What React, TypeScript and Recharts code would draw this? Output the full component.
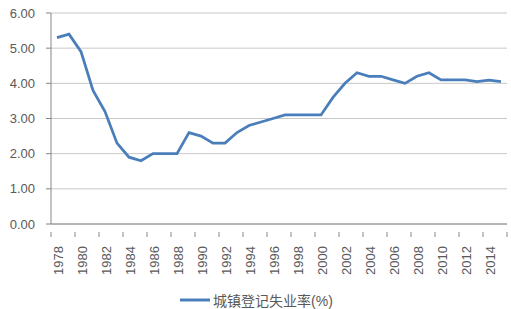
import { LineChart, Line, XAxis, YAxis, CartesianGrid, Legend } from 'recharts';

const years = [
  1978, 1979, 1980, 1981, 1982, 1983, 1984, 1985, 1986, 1987, 1988, 1989, 1990,
  1991, 1992, 1993, 1994, 1995, 1996, 1997, 1998, 1999, 2000, 2001, 2002, 2003,
  2004, 2005, 2006, 2007, 2008, 2009, 2010, 2011, 2012, 2013, 2014, 2015,
];

const rates = [
  5.3, 5.4, 4.9, 3.8, 3.2, 2.3, 1.9, 1.8, 2.0, 2.0, 2.0, 2.6, 2.5,
  2.3, 2.3, 2.6, 2.8, 2.9, 3.0, 3.1, 3.1, 3.1, 3.1, 3.6, 4.0, 4.3,
  4.2, 4.2, 4.1, 4.0, 4.2, 4.3, 4.1, 4.1, 4.1, 4.05, 4.09, 4.05,
];

const xTicks = [
  1978, 1980, 1982, 1984, 1986, 1988, 1990, 1992, 1994, 1996, 1998, 2000,
  2002, 2004, 2006, 2008, 2010, 2012, 2014,
];

const yTicks = [0, 1, 2, 3, 4, 5, 6];

const seriesName = '城镇登记失业率(%)';

const data = years.map((year, i) => ({ year, rate: rates[i] }));

const FONT = 'Arial, "Liberation Sans", "Noto Sans CJK SC", sans-serif';
const TEXT = '#595959';
const AXIS = '#868686';
const BLUE = '#4a7ebb';

// Excel-style category axis: tick marks sit between categories, labels rotated
function YearTick(props: any) {
  const { x, y, payload } = props;
  const half = 6;
  const last = payload.value === xTicks[xTicks.length - 1];
  return (
    <g>
      <line x1={x - half} x2={x - half} y1={y} y2={y + 5} stroke={AXIS} />
      {last && <line x1={x + 3 * half} x2={x + 3 * half} y1={y} y2={y + 5} stroke={AXIS} />}
      <text
        transform={`translate(${x + 1},${y + 14}) rotate(-90)`}
        textAnchor="end"
        dominantBaseline="central"
        fontSize={13}
        fontFamily={FONT}
        fill={TEXT}
      >
        {payload.value}
      </text>
    </g>
  );
}

function LegendContent() {
  return (
    <div style={{ display: 'flex', justifyContent: 'center', alignItems: 'center', paddingTop: 16, marginLeft: 6 }}>
      <svg width={30} height={6} style={{ marginRight: 3 }}>
        <line x1={0} x2={30} y1={3} y2={3} stroke={BLUE} strokeWidth={3} />
      </svg>
      <span style={{ fontSize: 14, fontFamily: FONT, color: TEXT }}>{seriesName}</span>
    </div>
  );
}

export default function App() {
  return (
    <div style={{ position: 'absolute', left: 0, top: 0, width: 511, height: 309, background: '#fff' }}>
      <LineChart width={511} height={309} data={data} margin={{ top: 13, right: 4, bottom: 0, left: 0 }}>
        <CartesianGrid vertical={false} stroke="#c8c8c8" />
        <XAxis
          dataKey="year"
          type="number"
          domain={[1977.5, 2015.5]}
          ticks={xTicks}
          interval={0}
          height={50}
          axisLine={{ stroke: AXIS }}
          tickLine={false}
          tick={<YearTick />}
        />
        <YAxis
          domain={[0, 6]}
          ticks={yTicks}
          width={51}
          tickFormatter={(v: number) => v.toFixed(2)}
          tick={{ fontSize: 13, fill: TEXT, fontFamily: FONT }}
          axisLine={{ stroke: AXIS }}
          tickLine={{ stroke: AXIS }}
          tickSize={5}
          tickMargin={11}
        />
        <Legend verticalAlign="bottom" height={35} content={<LegendContent />} />
        <Line
          dataKey="rate"
          name={seriesName}
          stroke={BLUE}
          strokeWidth={2.75}
          dot={false}
          isAnimationActive={false}
        />
      </LineChart>
    </div>
  );
}
